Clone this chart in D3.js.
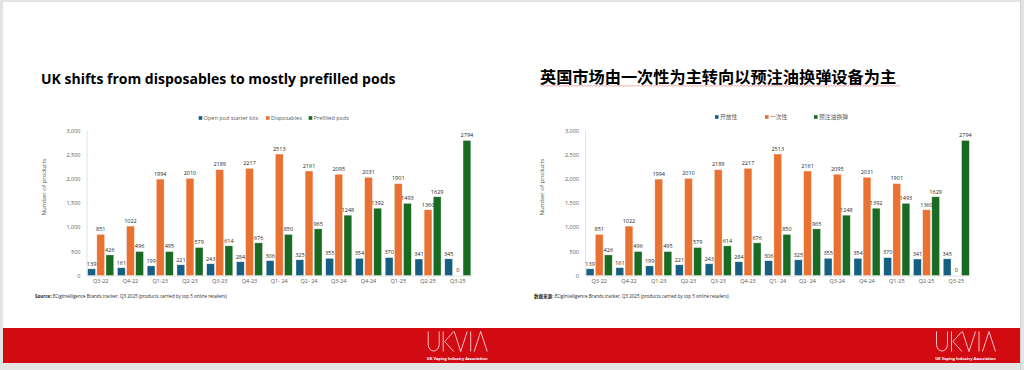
<!DOCTYPE html>
<html>
<head>
<meta charset="utf-8">
<script src="https://cdn.jsdelivr.net/npm/d3@7"></script>
<style>
  body { margin: 0; background: #e4e4e4; }
  svg { display: block; }
</style>
</head>
<body>
<div id="main"></div>
<script>
const quarters = ['Q3-22', 'Q4-22', 'Q1-23', 'Q2-23', 'Q3-23', 'Q4-23', 'Q1- 24', 'Q2- 24', 'Q3-24', 'Q4-24', 'Q1-25', 'Q2-25', 'Q3-25'];
const openPod = [139, 161, 199, 221, 243, 284, 306, 325, 355, 354, 370, 341, 345];
const disposables = [851, 1022, 1994, 2010, 2189, 2217, 2513, 2161, 2095, 2031, 1901, 1360, 0];
const prefilled = [426, 496, 495, 579, 614, 676, 850, 965, 1248, 1392, 1493, 1629, 2794];
const yTicks = [0, 500, 1000, 1500, 2000, 2500, 3000];
const seriesEn = ['Open pod starter kits', 'Disposables', 'Prefilled pods'];
const seriesZh = ['开放性', '一次性', '预注油换弹'];
const colors = ['#156082', '#e97132', '#196b24'];

const latin = "'Open Sans', 'Liberation Sans', sans-serif";
const cjk = "'Noto Sans CJK SC', 'Open Sans', sans-serif";

class Grafico {
  constructor(config) {
    this.config = config;
    this.svg = config.svg;
    this.margins = null;

    this.xScale = null;
    this.xSub = null;
    this.yScale = null;
    this.rows = [];

    this.buildData();
    this.createMargins();
  }

  buildData() {
    this.rows = quarters.map((q, i) => ({
      q: q,
      values: [openPod[i], disposables[i], prefilled[i]]
    }));
  }

  createMargins() {
    this.margins = this.svg
      .append('g')
      .attr('transform', `translate(${this.config.left},${this.config.top})`);
  }

  createScales() {
    this.xScale = d3.scaleBand().domain(quarters)
      .range([0, this.config.width]).paddingInner(0.125).paddingOuter(0.04);
    this.xSub = d3.scaleBand().domain([0, 1, 2])
      .range([0, this.xScale.bandwidth()]).paddingInner(0.15);
    this.yScale = d3.scaleLinear().domain([0, 3000]).range([this.config.height, 0]);
  }

  createAxis() {
    let xAxis = d3.axisBottom(this.xScale).tickSize(0).tickPadding(4);
    let yAxis = d3.axisLeft(this.yScale).tickValues(yTicks)
      .tickFormat(d3.format(',')).tickSize(0).tickPadding(6);

    let gx = this.margins.append('g')
      .attr('transform', `translate(0,${this.config.height})`)
      .call(xAxis);
    let gy = this.margins.append('g').call(yAxis);

    [gx, gy].forEach(g => {
      g.select('.domain').attr('stroke', '#d9d9d9').attr('stroke-width', 0.8);
      g.selectAll('text').attr('fill', '#595959').style('font-family', latin).style('font-size', '5.5px');
    });
  }

  createBars() {
    let groups = this.margins.selectAll('g.grupo')
      .data(this.rows)
      .join('g')
      .attr('class', 'grupo')
      .attr('transform', d => `translate(${this.xScale(d.q)},0)`);

    groups.selectAll('rect')
      .data(d => d.values.map((v, k) => ({ v, k })))
      .join('rect')
      .attr('x', d => this.xSub(d.k))
      .attr('y', d => this.yScale(d.v))
      .attr('width', this.xSub.bandwidth())
      .attr('height', d => this.config.height - this.yScale(d.v))
      .style('fill', d => colors[d.k])
      .style('stroke', '#ffffff')
      .style('stroke-opacity', 0.55)
      .style('stroke-width', 0.6);

    // data labels sit a little above each bar
    groups.selectAll('text')
      .data(d => d.values.map((v, k) => ({ v, k })))
      .join('text')
      .attr('x', d => this.xSub(d.k) + this.xSub.bandwidth() / 2)
      .attr('y', d => this.yScale(d.v) - 3.2)
      .attr('text-anchor', 'middle')
      .style('font-family', latin)
      .style('font-size', '5.5px')
      .style('fill', '#262626')
      .text(d => d.v);
  }

  createTexts() {
    let c = this.config;

    this.svg.append('text')
      .attr('x', c.titleX).attr('y', c.titleY)
      .style('font-family', c.titleFont)
      .style('font-weight', 'bold')
      .style('font-size', c.titleSize + 'px')
      .style('fill', '#000')
      .text(c.title);

    if (c.squiggle) {
      let pts = d3.range(0, 361, 1.5).map((x, i) => [c.titleX + x, c.titleY + 2.6 + (i % 2 ? 0.7 : -0.2)]);
      this.svg.append('path')
        .attr('d', d3.line()(pts))
        .attr('fill', 'none')
        .attr('stroke', '#e05a5a').attr('stroke-width', 0.5);
    }

    let legend = this.svg.append('g');
    c.names.forEach((n, k) => {
      legend.append('rect')
        .attr('x', c.legendX[k]).attr('y', c.legendY - 1.8)
        .attr('width', 3.6).attr('height', 3.6)
        .style('fill', colors[k]);
      legend.append('text')
        .attr('x', c.legendX[k] + 5).attr('y', c.legendY + 2)
        .style('font-family', c.legendFont)
        .style('font-size', c.legendSize + 'px')
        .style('fill', '#595959')
        .text(n);
    });

    this.svg.append('text')
      .attr('transform', `translate(${c.left - 41},${c.top + c.height / 2 - 16}) rotate(-90)`)
      .attr('text-anchor', 'middle')
      .style('font-family', latin)
      .style('font-size', '6px')
      .style('fill', '#595959')
      .text('Number of products');

    let src = this.svg.append('text')
      .attr('x', c.sourceX).attr('y', 297.5)
      .style('font-family', latin)
      .style('font-size', '4.5px')
      .style('fill', '#262626');
    src.append('tspan').style('font-weight', 'bold')
      .style('font-family', c.sourcePrefixFont).text(c.sourcePrefix);
    src.append('tspan').text(' ECigIntelligence Brands tracker, Q3 2025 (products carried by top 5 online retailers)');
  }
}

function drawSlide(svg) {
  svg.append('rect').attr('x', 3).attr('y', 2).attr('width', 1017).attr('height', 361).style('fill', '#ffffff');
  svg.append('rect').attr('x', 3).attr('y', 328).attr('width', 1017).attr('height', 35).style('fill', '#d20a11');
  svg.append('line').attr('x1', 1020.5).attr('x2', 1020.5).attr('y1', 0).attr('y2', 370)
    .attr('stroke', '#cfcfcf').attr('stroke-width', 1);

  [427.7, 936].forEach(lx => {
    let g = svg.append('g').attr('transform', `translate(${lx},331.5)`);
    let letters = [
      'M0.5,0 V13 A5.5,6.5 0 0 0 11.5,13 V0',
      'M15.5,0 V20 M26,0 L17,10 L26,20',
      'M26.5,0 L33,20 L39.5,0',
      'M43,0 V20',
      'M46.5,20 L53,0 L59.5,20'
    ];
    g.selectAll('path').data(letters).join('path')
      .attr('d', d => d)
      .attr('fill', 'none').attr('stroke', '#ffffff').attr('stroke-width', 0.75);
    g.append('text')
      .attr('x', 29.5).attr('y', 28.3)
      .attr('text-anchor', 'middle')
      .style('font-family', latin).style('font-weight', 'bold')
      .style('font-size', '3.9px').style('fill', '#ffffff')
      .text('UK Vaping Industry Association');
  });
}

async function main() {
  let svg = d3.select('#main').append('svg').attr('width', 1024).attr('height', 370);
  drawSlide(svg);

  let base = { svg: svg, top: 130.5, width: 385.5, height: 145 };

  let esq = new Grafico(Object.assign({}, base, {
    left: 86.5,
    title: 'UK shifts from disposables to mostly prefilled pods',
    titleX: 41, titleY: 83.5, titleSize: 14, titleFont: latin,
    names: seriesEn, legendX: [198.7, 266, 308.7], legendY: 118,
    legendFont: latin, legendSize: 5.5,
    sourceX: 35, sourcePrefix: 'Source:', sourcePrefixFont: latin
  }));

  let dir = new Grafico(Object.assign({}, base, {
    left: 585,
    title: '英国市场由一次性为主转向以预注油换弹设备为主',
    titleX: 540, titleY: 83, titleSize: 16.2, titleFont: cjk, squiggle: true,
    names: seriesZh, legendX: [715, 765, 814], legendY: 117,
    legendFont: cjk, legendSize: 5.8,
    sourceX: 534, sourcePrefix: '数据来源:', sourcePrefixFont: cjk
  }));

  [esq, dir].forEach(a => {
    a.createScales();
    a.createAxis();
    a.createBars();
    a.createTexts();
  });
}

main();
</script>
</body>
</html>
